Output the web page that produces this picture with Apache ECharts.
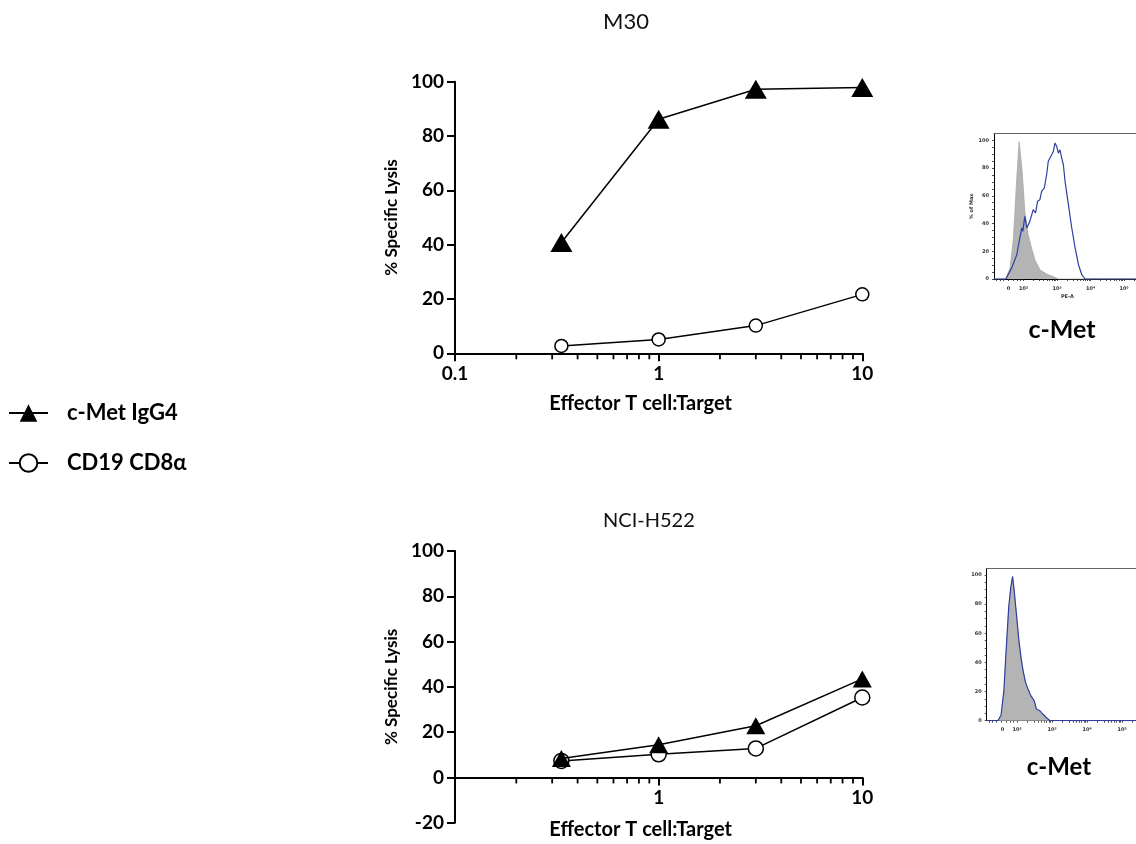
<!DOCTYPE html>
<html>
<head>
<meta charset="utf-8">
<script src="https://cdn.jsdelivr.net/npm/echarts@6/dist/echarts.min.js"></script>
<style>
html,body{margin:0;padding:0;background:#fff;}
#chart{width:1136px;height:844px;}
</style>
</head>
<body>
<div id="chart"></div>
<script>
// ---------- Data ----------
const etRatio = [0.333, 1, 3, 10];               // Effector T cell : Target
const m30CMet  = [40.8, 86.2, 97.2, 97.9];        // M30, c-Met IgG4
const m30CD19  = [2.7, 5.1, 10.2, 21.7];          // M30, CD19 CD8a
const h522CMet = [8.4, 14.4, 22.8, 43.5];         // NCI-H522, c-Met IgG4
const h522CD19 = [7.3, 10.2, 12.8, 35.3];         // NCI-H522, CD19 CD8a
const minorTickValues = [0.2,0.3,0.4,0.5,0.6,0.7,0.8,0.9,2,3,4,5,6,7,8,9];

const seriesNames = ['c-Met IgG4', 'CD19 CD8α'];
const panelTitles = ['M30', 'NCI-H522'];
const axisTitleX = 'Effector T cell:Target';
const axisTitleY = '% Specific Lysis';

// Flow histograms (x in display decades, y in % of Max)
const histLabelText = ['0', '10²', '10³', '10⁴', '10⁵'];
const histTopLabelPos = [1.55, 2, 3, 4, 5];
const histBotLabelPos = [1.58, 2, 3, 4, 5];
const histYLabels = [0, 20, 40, 60, 80, 100];

const m30Isotype = [[1.12,0],[1.47,0],[1.60,8],[1.70,29.6],[1.80,72.8],[1.87,99],[1.96,77.6],[2.04,48.8],[2.14,32],[2.24,22.4],[2.34,13.9],[2.49,6.7],[2.69,3.6],[2.94,1.2],[3.04,0],[5.5,0]];
const m30Stain = [[1.12,0],[1.47,0],[1.65,8],[1.80,17.5],[1.87,27],[1.95,36.8],[1.98,34.4],[2.04,45.2],[2.10,36.8],[2.19,41.6],[2.29,50],[2.36,47.6],[2.42,56],[2.49,57.2],[2.54,63.2],[2.62,65.6],[2.69,75.2],[2.74,84.9],[2.79,86],[2.84,89.6],[2.89,92],[2.94,98],[2.99,95.7],[3.04,90.8],[3.09,93.2],[3.14,87.2],[3.19,82.4],[3.24,70.4],[3.34,53.6],[3.44,36.8],[3.54,22.4],[3.64,10.3],[3.74,3.1],[3.84,0],[5.5,0]];
const h522Isotype = [[1.13,0],[1.46,0],[1.55,3.9],[1.63,19.9],[1.70,49.7],[1.76,77.1],[1.82,90.9],[1.87,98.2],[1.91,89.7],[1.97,74.8],[2.01,64.5],[2.05,54.2],[2.11,42.8],[2.17,33.6],[2.24,25.7],[2.31,21.1],[2.39,16.5],[2.49,13.0],[2.55,7.3],[2.65,6.2],[2.74,3.9],[2.84,1.6],[2.93,0],[5.45,0]];
const h522Stain = [[1.13,0],[1.45,0],[1.54,3.9],[1.62,20.5],[1.69,50.5],[1.76,78],[1.82,92],[1.87,99],[1.91,90.5],[1.97,75.5],[2.01,65.5],[2.05,55],[2.11,43.5],[2.17,34.2],[2.24,26.3],[2.31,21.8],[2.39,17.2],[2.49,13.6],[2.55,8],[2.65,6.8],[2.74,4.4],[2.84,2],[2.94,0],[5.45,0]];

// ---------- Styling helpers ----------
const FONT = 'Lato';
const histTickPos = [];
[1.2,1.3,1.4,1.55,1.7,1.8,1.9].forEach(v => histTickPos.push(v));
[2,3,4].forEach(d => { for (let m = 1; m <= 9; m++) histTickPos.push(d + Math.log10(m)); });
histTickPos.push(5); histTickPos.push(5 + Math.log10(2)); histTickPos.push(5 + Math.log10(3));
const histYTicks = []; for (let v = 0; v <= 100; v += 5) histYTicks.push(v);

function histLabelFmt(posArr) {
  return function (v) {
    for (let i = 0; i < posArr.length; i++) if (Math.abs(posArr[i] - v) < 1e-6) return histLabelText[i];
    return '';
  };
}

function mainX(gridIndex, showMin, gap, offset) {
  return {
    type: 'log', logBase: 10, min: 0.1, max: 10, gridIndex: gridIndex,
    position: 'bottom', offset: offset,
    axisLine: { onZero: false, lineStyle: { color: '#000', width: 2 } },
    axisTick: { length: 8, lineStyle: { color: '#000', width: 2 } },
    axisLabel: { showMinLabel: showMin, margin: 11, color: '#000', fontFamily: FONT, fontWeight: 'bold', fontSize: 19 },
    splitLine: { show: false },
    name: axisTitleX, nameLocation: 'middle', nameGap: gap,
    nameTextStyle: { color: '#000', fontFamily: FONT, fontWeight: 'bold', fontSize: 20, padding: [0, 36, 0, 0] }
  };
}
function mainY(gridIndex, min) {
  return {
    type: 'value', min: min, max: 100, interval: 20, gridIndex: gridIndex,
    axisLine: { show: true, onZero: false, lineStyle: { color: '#000', width: 2 } },
    axisTick: { show: true, length: 8, lineStyle: { color: '#000', width: 2 } },
    axisLabel: { margin: 11, color: '#000', fontFamily: FONT, fontWeight: 'bold', fontSize: 19 },
    splitLine: { show: false },
    name: axisTitleY, nameLocation: 'middle', nameGap: 55,
    nameTextStyle: { color: '#000', fontFamily: FONT, fontWeight: 'bold', fontSize: 17 }
  };
}
function histX(gridIndex, min, max, labelPos, name) {
  return {
    type: 'value', min: min, max: max, gridIndex: gridIndex,
    axisLine: { onZero: false, lineStyle: { color: '#000', width: 1 } },
    axisTick: { customValues: histTickPos, length: 2, lineStyle: { color: '#222', width: 0.8 } },
    axisLabel: { customValues: labelPos, formatter: histLabelFmt(labelPos), margin: 7, color: '#333', fontFamily: 'DejaVu Sans', fontWeight: 'bold', fontSize: 5 },
    splitLine: { show: false },
    name: name, nameLocation: 'middle', nameGap: 15,
    nameTextStyle: { color: '#333', fontFamily: 'DejaVu Sans', fontWeight: 'bold', fontSize: 5 }
  };
}
function histXTop(gridIndex, min, max) {
  return {
    type: 'value', min: min, max: max, gridIndex: gridIndex, position: 'top',
    axisLine: { onZero: false, lineStyle: { color: '#666', width: 1 } },
    axisTick: { show: false }, axisLabel: { show: false }, splitLine: { show: false }
  };
}
function histY(gridIndex, max, name) {
  return {
    type: 'value', min: 0, max: max, gridIndex: gridIndex,
    axisLine: { show: true, lineStyle: { color: '#000', width: 1 } },
    axisTick: { show: true, customValues: histYTicks, length: 2, lineStyle: { color: '#222', width: 0.8 } },
    axisLabel: { customValues: histYLabels, margin: 5, color: '#333', fontFamily: 'DejaVu Sans', fontWeight: 'bold', fontSize: 5 },
    splitLine: { show: false },
    name: name, nameLocation: 'middle', nameGap: 19,
    nameTextStyle: { color: '#333', fontFamily: 'DejaVu Sans', fontWeight: 'bold', fontSize: 5 }
  };
}

function zip(xs, ys) { return xs.map((x, i) => [x, ys[i]]); }

function minorTickSeries(xi, yi) {
  return {
    type: 'custom', xAxisIndex: xi, yAxisIndex: yi, silent: true, z: 5, clip: false,
    data: minorTickValues.map(v => [v, 0]),
    renderItem: function (params, api) {
      const p = api.coord([api.value(0), 0]);
      return { type: 'line', shape: { x1: p[0], y1: p[1], x2: p[0], y2: p[1] + 6 }, style: { stroke: '#000', lineWidth: 1.8 } };
    }
  };
}

function cd19Series(xi, yi, vals, size) {
  return {
    name: seriesNames[1], type: 'line', xAxisIndex: xi, yAxisIndex: yi, data: zip(etRatio, vals),
    symbol: 'circle', symbolSize: size, z: 3,
    lineStyle: { color: '#000', width: 1.5 },
    itemStyle: { color: '#fff', borderColor: '#000', borderWidth: 1.5 }
  };
}
function cmetSeries(xi, yi, vals, size) {
  return {
    name: seriesNames[0], type: 'line', xAxisIndex: xi, yAxisIndex: yi, data: zip(etRatio, vals),
    symbol: 'triangle', symbolSize: size, z: 4,
    lineStyle: { color: '#000', width: 1.5 },
    itemStyle: { color: '#000' }
  };
}

const chart = echarts.init(document.getElementById('chart'), null, { renderer: 'canvas' });
chart.setOption({
  animation: false,
  backgroundColor: '#fff',
  textStyle: { fontFamily: FONT },
  legend: {
    orient: 'vertical', left: 8, top: 402, padding: 0,
    itemWidth: 39, itemHeight: 22, itemGap: 28,
    data: [
      { name: seriesNames[0] },
      { name: seriesNames[1] }
    ],
    textStyle: {
      color: '#000', fontFamily: FONT, fontWeight: 'bold', fontSize: 22, padding: [0, 0, 0, 14]
    }
  },
  grid: [
    { left: 455, top: 81.7, width: 407.3, height: 271.6, outerBoundsMode: 'none', containLabel: false },
    { left: 455, top: 551, width: 407.3, height: 271.7, outerBoundsMode: 'none', containLabel: false },
    { left: 994, top: 133.7, width: 146.8, height: 145.3, outerBoundsMode: 'none', containLabel: false },
    { left: 986.7, top: 568.3, width: 151.2, height: 152.4, outerBoundsMode: 'none', containLabel: false }
  ],
  xAxis: [
    mainX(0, true, 40, 0),
    mainX(1, false, 42, -45.3),
    histX(2, 1.12, 5.5, histTopLabelPos, 'PE-A'),
    histX(3, 1.13, 5.45, histBotLabelPos, ''),
    histXTop(2, 1.12, 5.5),
    histXTop(3, 1.13, 5.45)
  ],
  yAxis: [
    mainY(0, 0),
    mainY(1, -20),
    histY(2, 104.8, '% of Max'),
    histY(3, 104.6, '')
  ],
  series: [
    cd19Series(0, 0, m30CD19, 13),
    cmetSeries(0, 0, m30CMet, [22, 19]),
    cd19Series(1, 1, h522CD19, 15),
    cmetSeries(1, 1, h522CMet, [19, 17]),
    minorTickSeries(0, 0),
    minorTickSeries(1, 1),
    { name: 'isotype-m30', type: 'line', xAxisIndex: 2, yAxisIndex: 2, data: m30Isotype, showSymbol: false, symbol: 'none',
      lineStyle: { color: '#a8a8a8', width: 0.8 }, areaStyle: { color: '#b4b4b4', opacity: 1 }, z: 2 },
    { name: 'stain-m30', type: 'line', xAxisIndex: 2, yAxisIndex: 2, data: m30Stain, showSymbol: false, symbol: 'none',
      lineStyle: { color: '#2f3f9f', width: 1.2 }, z: 3 },
    { name: 'isotype-h522', type: 'line', xAxisIndex: 3, yAxisIndex: 3, data: h522Isotype, showSymbol: false, symbol: 'none',
      lineStyle: { color: '#a8a8a8', width: 0.8 }, areaStyle: { color: '#b4b4b4', opacity: 1 }, z: 2 },
    { name: 'stain-h522', type: 'line', xAxisIndex: 3, yAxisIndex: 3, data: h522Stain, showSymbol: false, symbol: 'none',
      lineStyle: { color: '#2f3f9f', width: 1.2 }, z: 3 }
  ],
  graphic: [
    { type: 'text', left: 603, top: 11, style: { text: panelTitles[0], font: 'normal 22px ' + FONT, fill: '#111' } },
    { type: 'text', left: 603, top: 511, style: { text: panelTitles[1], font: 'normal 20px ' + FONT, fill: '#111' } },
    { type: 'text', x: 1062, y: 330, style: { text: 'c-Met', font: 'bold 25px ' + FONT, fill: '#000', align: 'center', verticalAlign: 'middle' } },
    { type: 'text', x: 1059, y: 767, style: { text: 'c-Met', font: 'bold 24px ' + FONT, fill: '#000', align: 'center', verticalAlign: 'middle' } }
  ]
});
</script>
</body>
</html>
